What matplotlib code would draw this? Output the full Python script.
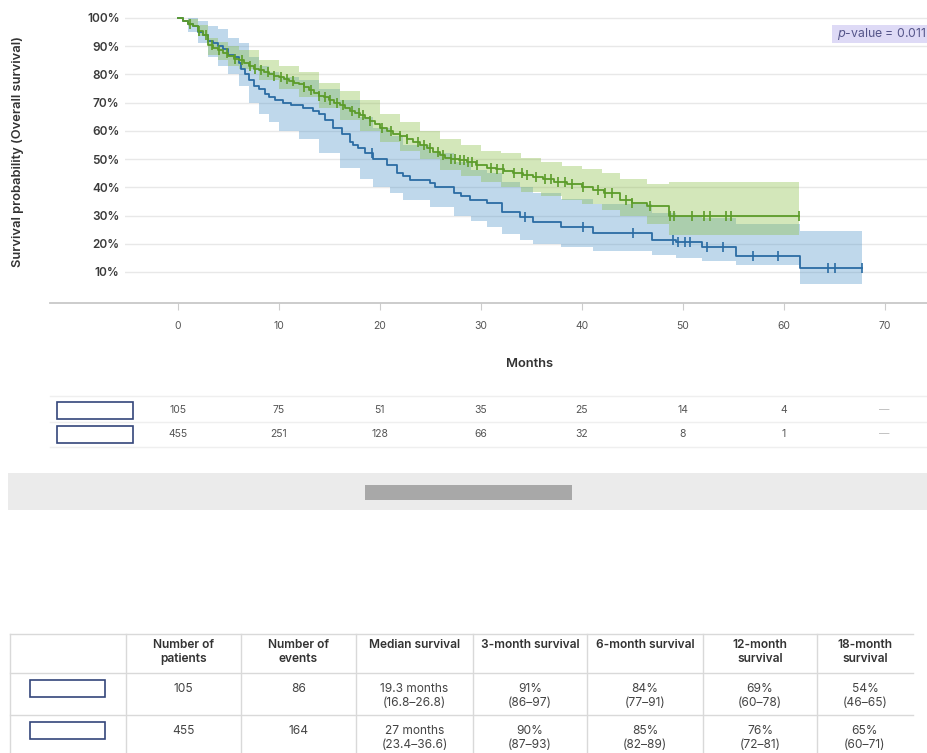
import numpy as np
import matplotlib.pyplot as plt
from matplotlib.patches import Rectangle
from matplotlib.transforms import blended_transform_factory

plt.rcParams['font.family'] = ['Inter', 'DejaVu Sans']

# group A (n=105), blue curve: step times / survival
blue_t = [0, 0.5, 1.0, 1.5, 2.0, 2.5, 3.0, 3.5, 4.0, 4.5, 5.0, 5.5, 6.0, 6.2, 6.6,
          7.0, 7.5, 8.0, 8.6, 9.0, 9.6, 10.4, 11.2, 12.4, 13.4, 14.0, 14.6, 15.4,
          16.2, 17.0, 17.3, 17.8, 18.5, 19.3, 20.7, 21.7, 22.3, 23.0, 25.0, 25.5,
          27.3, 28.0, 28.9, 30.6, 32.1, 33.9, 35.2, 37.9, 41.1, 47.0, 49.3, 51.9,
          55.3, 61.6]
blue_s = [1.0, 0.99, 0.98, 0.97, 0.95, 0.94, 0.92, 0.91, 0.90, 0.89, 0.87, 0.86, 0.84,
          0.82, 0.80, 0.78, 0.76, 0.75, 0.73, 0.72, 0.71, 0.70, 0.69, 0.68, 0.67, 0.66,
          0.64, 0.61, 0.59, 0.56, 0.55, 0.54, 0.52, 0.50, 0.48, 0.45, 0.44, 0.425,
          0.415, 0.40, 0.38, 0.37, 0.355, 0.343, 0.313, 0.295, 0.278, 0.26, 0.238,
          0.213, 0.205, 0.19, 0.155, 0.115]
blue_end = 67.8
blue_cens = [19.2, 34.4, 40.1, 45.1, 49.0, 49.5, 50.2, 50.7, 52.4, 54.0, 57.0, 59.4,
             64.4, 65.1, 67.8]
blue_ci_t = [0, 1, 2, 3, 4, 5, 6, 7, 8, 9, 10, 12, 14, 16, 18, 19.3, 21, 22.3, 25,
             27.3, 29, 30.6, 32.1, 33.9, 35.2, 37.9, 41.1, 47, 49.3, 51.9, 55.3, 61.6]
blue_lo = [1.0, 0.95, 0.91, 0.86, 0.83, 0.80, 0.76, 0.70, 0.66, 0.63, 0.60, 0.57, 0.52,
           0.47, 0.43, 0.40, 0.38, 0.355, 0.33, 0.30, 0.28, 0.26, 0.235, 0.215, 0.20,
           0.19, 0.175, 0.16, 0.15, 0.14, 0.125, 0.057]
blue_hi = [1.0, 1.0, 0.99, 0.97, 0.96, 0.93, 0.91, 0.86, 0.83, 0.81, 0.79, 0.78, 0.75,
           0.71, 0.65, 0.61, 0.58, 0.55, 0.52, 0.49, 0.46, 0.45, 0.42, 0.40, 0.38,
           0.36, 0.34, 0.31, 0.30, 0.29, 0.27, 0.245]

# group B (n=455), green curve
green_t = [0, 0.5, 1, 1.5, 2, 2.5, 3, 3.5, 4, 4.5, 5, 5.5, 6, 6.5, 7, 7.5, 8, 8.5, 9,
           9.5, 10, 10.5, 11, 11.5, 12, 12.5, 13, 13.5, 14, 14.5, 15, 15.5, 16, 16.5,
           17, 17.5, 18, 18.5, 19, 19.5, 20, 20.7, 21.3, 22, 22.7, 23.3, 24, 24.7,
           25.3, 26, 26.5, 27, 27.8, 28.6, 29.5, 30.6, 31.5, 32.3, 33.2, 34.2, 35.2,
           36.2, 37.2, 38.5, 40, 41.1, 42.2, 43.8, 45, 46.5, 48.6]
green_s = [1.0, 0.99, 0.98, 0.97, 0.955, 0.94, 0.905, 0.895, 0.885, 0.875, 0.865,
           0.855, 0.85, 0.84, 0.83, 0.82, 0.815, 0.81, 0.80, 0.795, 0.79, 0.785, 0.775,
           0.77, 0.765, 0.755, 0.745, 0.735, 0.725, 0.72, 0.71, 0.70, 0.69, 0.68, 0.67,
           0.665, 0.655, 0.645, 0.635, 0.625, 0.61, 0.60, 0.59, 0.58, 0.57, 0.56, 0.55,
           0.54, 0.525, 0.515, 0.505, 0.50, 0.495, 0.49, 0.48, 0.47, 0.465, 0.458,
           0.452, 0.445, 0.437, 0.43, 0.42, 0.41, 0.40, 0.39, 0.38, 0.355, 0.345,
           0.334, 0.30]
green_end = 61.5
green_cens = [1.2, 2.1, 2.8, 3.4, 4.1, 4.9, 5.6, 6.3, 7.1, 7.6, 8.2, 8.9, 9.5, 10.2,
              10.8, 11.4, 12.5, 13.2, 14.0, 14.6, 15.1, 15.8, 16.3, 17.2, 17.9, 18.3,
              19.0, 20.2, 21.1, 22.0, 22.7, 23.8, 24.4, 25.0, 25.8, 26.3, 27.0, 27.4,
              27.9, 28.3, 28.7, 29.1, 29.6, 31.0, 31.6, 32.2, 33.3, 34.1, 34.6, 35.5,
              36.4, 37.0, 37.6, 38.3, 39.0, 40.1, 41.6, 42.3, 43.0, 44.4, 45.0, 46.8,
              48.7, 49.1, 50.9, 52.1, 52.7, 54.3, 54.8, 61.5]
green_ci_t = [0, 1, 2, 3, 4, 5, 6, 8, 10, 12, 14, 16, 18, 20, 22, 24, 26, 28, 30, 32,
              34, 36, 38, 40, 42, 43.8, 46.5, 48.6]
green_lo = [1.0, 0.97, 0.935, 0.87, 0.85, 0.83, 0.82, 0.78, 0.75, 0.72, 0.68, 0.64,
            0.60, 0.56, 0.53, 0.50, 0.46, 0.44, 0.42, 0.40, 0.385, 0.37, 0.355, 0.34,
            0.32, 0.30, 0.27, 0.23]
green_hi = [1.0, 0.995, 0.975, 0.93, 0.915, 0.90, 0.885, 0.85, 0.83, 0.81, 0.77,
            0.74, 0.71, 0.66, 0.63, 0.60, 0.57, 0.55, 0.53, 0.52, 0.505, 0.49, 0.475,
            0.465, 0.45, 0.43, 0.41, 0.418]

# numbers at risk
risk_times = [0, 10, 20, 30, 40, 50, 60, 70]
risk_blue = ['105', '75', '51', '35', '25', '14', '4', '—']
risk_green = ['455', '251', '128', '66', '32', '8', '1', '—']

# summary table
table_header = ['', 'Number of\npatients', 'Number of\nevents', 'Median survival',
                '3-month survival', '6-month survival', '12-month\nsurvival',
                '18-month\nsurvival']
table_blue = ['', '105', '86', '19.3 months\n(16.8–26.8)', '91%\n(86–97)',
              '84%\n(77–91)', '69%\n(60–78)', '54%\n(46–65)']
table_green = ['', '455', '164', '27 months\n(23.4–36.6)', '90%\n(87–93)',
               '85%\n(82–89)', '76%\n(72–81)', '65%\n(60–71)']

blue = '#2b6ca3'
green = '#5c9c2a'

W, H = 927, 753
fig = plt.figure(figsize=(W / 100, H / 100), dpi=100)

# main survival axes (pixel box 125..927 x 9.5..303)
ax = fig.add_axes([125 / W, 1 - 303 / H, 802 / W, (303 - 9.5) / H])
ax.set_xlim(-5.25, 74.2)
ax.set_ylim(-0.01, 1.03)

yt = np.arange(0.1, 1.01, 0.1)
for yv in yt:
    ax.axhline(yv, color='#e8e8e8', lw=1, zorder=0)


def draw_curve(t, s, end, cens, ci_t, lo, hi, col, band, alpha):
    ax.fill_between(ci_t + [end], lo + [lo[-1]], hi + [hi[-1]], step='post',
                    color=band, alpha=alpha, lw=0, zorder=1)
    ax.step(t + [end], s + [s[-1]], where='post', color=col, lw=1.3, zorder=3)
    idx = np.searchsorted(t, cens, side='right') - 1
    ax.plot(cens, np.array(s)[idx], ls='none', marker='|', ms=7, mew=1.2,
            color=col, zorder=4)


draw_curve(blue_t, blue_s, blue_end, blue_cens, blue_ci_t, blue_lo, blue_hi,
           blue, '#4a90c8', 0.35)
draw_curve(green_t, green_s, green_end, green_cens, green_ci_t, green_lo, green_hi,
           green, '#8cc04a', 0.38)

ax.set_xticks(risk_times)
ax.set_yticks(yt)
ax.set_yticklabels([f'{int(round(v * 100))}%' for v in yt])
ax.tick_params(axis='y', length=0, pad=4, labelsize=8.5, labelcolor='#3a3a3a')
ax.tick_params(axis='x', length=5, color='#cccccc', pad=8, labelsize=7.5,
               labelcolor='#555555')
for lab in ax.get_yticklabels():
    lab.set_fontweight('semibold')
for side in ['top', 'right', 'left', 'bottom']:
    ax.spines[side].set_visible(False)

# overlay axes in pixel units for labels, tables and the scrollbar
ov = fig.add_axes([0, 0, 1, 1], zorder=5)
ov.set_xlim(0, W)
ov.set_ylim(H, 0)
ov.axis('off')

# x axis baseline runs further left than the grid
ov.plot([50, W], [303, 303], color='#c8c8c8', lw=1.3)

ov.text(18, 151, 'Survival probability (Overall survival)', rotation=90,
        ha='center', va='center', fontsize=9.3, fontweight='semibold', color='#333333')
ov.text(530, 364, 'Months', ha='center', va='center', fontsize=9.3,
        fontweight='semibold', color='#333333')

ov.add_patch(Rectangle((832, 25), 100, 18, fc='#dedaf6', ec='none'))
ov.text(837, 34, '$p$-value = 0.011', ha='left', va='center', fontsize=8.8,
        color='#55558a')

# number-at-risk rows
tr = blended_transform_factory(ax.transData, ov.transData)
for yl in [396, 422, 447]:
    ov.plot([50, W], [yl, yl], color='#efefef', lw=1)
for yrow, vals in [(410, risk_blue), (434, risk_green)]:
    ov.add_patch(Rectangle((57, yrow - 8), 76, 17, fc='white', ec='#34467a', lw=1.2))
    for tt, v in zip(risk_times, vals):
        ov.text(tt, yrow, v, transform=tr, ha='center', va='center', fontsize=7.5,
                color='#bbbbbb' if v == '—' else '#555555')

# scrollbar
ov.add_patch(Rectangle((8, 473), W - 8, 37, fc='#ebebeb', ec='none'))
ov.add_patch(Rectangle((365, 485), 207, 15, fc='#a8a8a8', ec='none'))

# summary table
col_x = [10, 126, 241, 356, 473, 587, 703, 817, 913]
row_y = [634, 673, 715, 757]
for yl in row_y:
    ov.plot([col_x[0], col_x[-1]], [yl, yl], color='#d9d9d9', lw=1)
for xl in col_x[:-1]:
    ov.plot([xl, xl], [row_y[0], H], color='#d9d9d9', lw=1)

for i in range(len(table_header)):
    xc = (col_x[i] + col_x[i + 1]) / 2
    ov.text(xc, 639, table_header[i], ha='center', va='top', fontsize=8.6,
            fontweight='semibold', color='#333333', linespacing=1.2)
    ov.text(xc, 683, table_blue[i], ha='center', va='top', fontsize=8.6,
            color='#444444', linespacing=1.2)
    ov.text(xc, 725, table_green[i], ha='center', va='top', fontsize=8.6,
            color='#444444', linespacing=1.2)
for yb in [680, 722]:
    ov.add_patch(Rectangle((30, yb), 75, 17, fc='white', ec='#34467a', lw=1.2))

fig.savefig('out.png', dpi=100)
